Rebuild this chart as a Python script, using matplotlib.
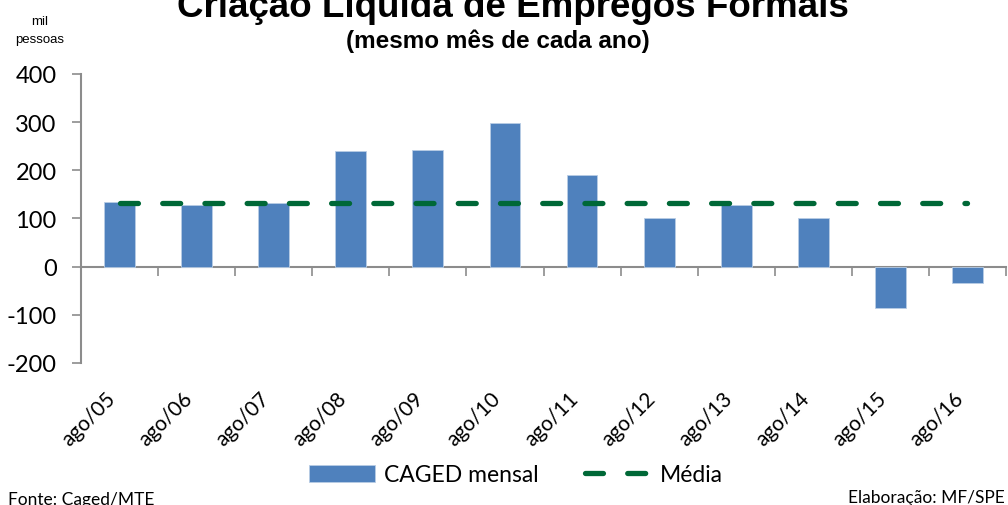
import numpy as np
import matplotlib.pyplot as plt

plt.rcParams['axes.unicode_minus'] = False

# data (mil pessoas)
meses = ['ago/05', 'ago/06', 'ago/07', 'ago/08', 'ago/09', 'ago/10',
         'ago/11', 'ago/12', 'ago/13', 'ago/14', 'ago/15', 'ago/16']
caged = [135, 128.5, 133, 240, 242, 299, 191, 101.5, 128, 101, -86.5, -33.9]
media = np.mean(caged)

azul = '#4F81BD'
verde = '#006837'
cinza = '#8C8C8C'
fonte_txt = 'Lato'
fonte_tit = 'Liberation Sans'

fig = plt.figure(figsize=(10.08, 5.06), dpi=100)
ax = fig.add_axes([81 / 1008, 1 - 364 / 506, (1006 - 81) / 1008, (364 - 75) / 506])

x = np.arange(len(meses))
barras = ax.bar(x, caged, width=0.4, color=azul, edgecolor='#B9CDE5',
                linewidth=0.6, label='CAGED mensal', zorder=2)
linha, = ax.plot(x, [media] * len(x), color=verde, lw=3.8, ls=(0, (3.4, 4.6)),
                 dash_capstyle='round', label='Média', zorder=3)

ax.set_xlim(-0.5, len(meses) - 0.5)
ax.set_ylim(-200, 400)
ax.set_yticks(range(-200, 401, 100))
ax.tick_params(axis='y', length=6.5, width=1.2, color=cinza, pad=11,
               labelsize=17)
for t in ax.get_yticklabels():
    t.set_fontfamily(fonte_txt)

# category labels at the bottom of the plot area
ax.set_xticks(x)
ax.set_xticklabels(meses, rotation=45, ha='right', fontsize=15,
                   fontfamily=fonte_txt)
ax.tick_params(axis='x', length=0, pad=18)

for s in ['top', 'right', 'bottom']:
    ax.spines[s].set_visible(False)
ax.spines['left'].set_color(cinza)
ax.spines['left'].set_linewidth(1.5)

# horizontal axis at zero with tick marks between categories
sec = ax.secondary_xaxis(1 / 3)
sec.set_xticks(np.arange(0.5, len(meses), 1))
sec.set_xticklabels([])
sec.tick_params(length=6.5, width=1.2, color=cinza, direction='out')
sec.spines['bottom'].set_color(cinza)
sec.spines['bottom'].set_linewidth(1.5)
sec.spines['top'].set_visible(False)

fig.text(0.509, 1 - 17 / 506, 'Criação Líquida de Empregos Formais',
         ha='center', va='baseline', fontsize=26.5, fontweight='bold',
         fontfamily=fonte_tit)
fig.text(0.494, 1 - 48 / 506, '(mesmo mês de cada ano)', ha='center',
         va='baseline', fontsize=17.5, fontweight='bold', fontfamily=fonte_tit)
fig.text(40 / 1008, 1 - 25 / 506, 'mil', ha='center', va='baseline',
         fontsize=9.5, fontfamily=fonte_tit)
fig.text(40 / 1008, 1 - 43 / 506, 'pessoas', ha='center', va='baseline',
         fontsize=9.5, fontfamily=fonte_tit)

fig.legend([barras, linha], ['CAGED mensal', 'Média'], loc='center',
           bbox_to_anchor=(516 / 1008, 1 - 476 / 506), ncol=2,
           frameon=False, prop={'family': fonte_txt, 'size': 16.5},
           handlelength=2.9, handleheight=0.8, columnspacing=2.0,
           handletextpad=0.4)

fig.text(8 / 1008, 1 - 505 / 506, 'Fonte: Caged/MTE', ha='left',
         va='baseline', fontsize=12.5, fontfamily=fonte_txt)
fig.text(1005 / 1008, 1 - 503 / 506, 'Elaboração: MF/SPE', ha='right',
         va='baseline', fontsize=12.5, fontfamily=fonte_txt)

fig.savefig('out.png', dpi=100)
